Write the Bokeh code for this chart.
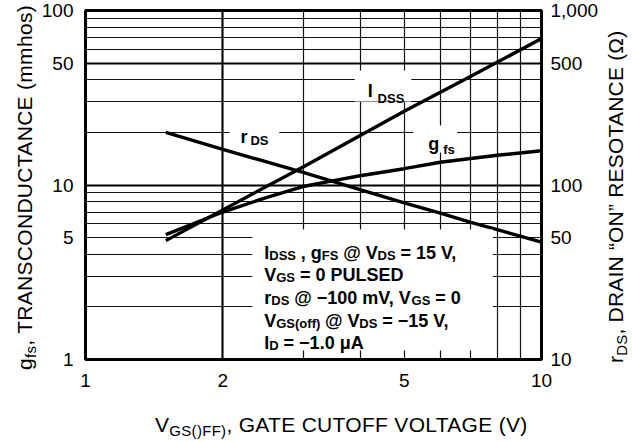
import math
from bokeh.plotting import figure
from bokeh.layouts import row, column
from bokeh.models import (Range1d, LogScale, LogAxis, FixedTicker, NumeralTickFormatter,
                          Label, BoxAnnotation, Grid, Div)
from bokeh.embed import file_html
from bokeh.resources import INLINE

# ---------------- data ----------------
vgs_idss = [1.5, 2, 3, 5, 7, 10]
idss = [4.8, 7.2, 12.7, 26.5, 42, 69]

vgs_gfs = [1.5, 2, 2.5, 3, 3.5, 4, 5, 6, 8, 10]
gfs = [5.2, 7.0, 8.5, 9.8, 10.6, 11.3, 12.4, 13.5, 14.8, 15.7]

vgs_rds = [1.5, 2, 3, 4, 5, 6, 7, 8, 10]
rds = [200, 160, 118, 94, 79, 69, 61, 55.5, 47]

x_ticks = [1, 2, 5, 10]
left_ticks = [1, 5, 10, 50, 100]
right_ticks = [10, 50, 100, 500, 1000]
x_grid = [2, 3, 4, 5, 6, 7, 8, 9]
y_grid = [2, 3, 4, 5, 6, 7, 8, 9, 20, 30, 40, 50, 60, 70, 80, 90]

FONT = "Liberation Sans"

# ---------------- page layout ----------------
LEFT_W = 38          # left title strip
RIGHT_X = 603        # right title strip starts here
PLOT_H = 400         # figure height; bottom title strip below
PAGE_W, PAGE_H = 632, 442
FL, FR, FT, FB = 82.0, 541.0, 10.0, 359.0   # frame edges in page pixels


def X(px):
    return 10 ** ((px - FL) / (FR - FL))


def Y(py):
    return 10 ** (2 * (FB - py) / (FB - FT))


BOLD = {' ': 278, ',': 278, '(': 333, ')': 333, '@': 975, '=': 584, '\u2212': 584, '.': 278,
        '\u03bc': 611, 'A': 722, 'D': 722, 'E': 667, 'F': 611, 'G': 778, 'I': 278, 'L': 611,
        'P': 667, 'S': 667, 'U': 722, 'V': 667, 'f': 333, 'g': 611, 'm': 889, 'o': 611,
        'r': 389, 's': 556}


def tw(s, size):
    return sum(BOLD.get(c, 556) for c in s) * size / 1000.0


p = figure(width=RIGHT_X - LEFT_W, height=PLOT_H, x_axis_type="log", y_axis_type="log",
           x_range=Range1d(1, 10), y_range=Range1d(1, 100),
           output_backend="svg", toolbar_location=None,
           min_border_left=int(FL - LEFT_W), min_border_right=int(RIGHT_X - FR),
           min_border_top=int(FT), min_border_bottom=int(PLOT_H - FB))

p.extra_y_ranges = {"r": Range1d(10, 1000)}
p.extra_y_scales = {"r": LogScale()}
ax_r = LogAxis(y_range_name="r")
p.add_layout(ax_r, "right")

p.xaxis.ticker = FixedTicker(ticks=x_ticks)
p.yaxis[0].ticker = FixedTicker(ticks=left_ticks)
ax_r.ticker = FixedTicker(ticks=right_ticks)

for ax in [p.xaxis[0], p.yaxis[0], ax_r]:
    ax.formatter = NumeralTickFormatter(format="0,0")
    ax.axis_line_color = None
    ax.major_tick_line_color = None
    ax.minor_tick_line_color = None
    ax.major_tick_out = 0
    ax.major_tick_in = 0
    ax.minor_tick_out = 0
    ax.minor_tick_in = 0
    ax.major_label_text_font = FONT
    ax.major_label_text_font_size = "19px"
    ax.major_label_text_color = "black"

p.xaxis[0].major_label_standoff = 14
p.yaxis[0].major_label_standoff = 12
ax_r.major_label_standoff = 9

p.xgrid.ticker = FixedTicker(ticks=x_grid)
p.ygrid.ticker = FixedTicker(ticks=y_grid)
p.xgrid.grid_line_color = "#111111"
p.ygrid.grid_line_color = "#111111"
p.xgrid.grid_line_width = 1.2
p.ygrid.grid_line_width = 1.2
p.add_layout(Grid(dimension=0, ticker=FixedTicker(ticks=[2]), grid_line_color="black", grid_line_width=2))
p.add_layout(Grid(dimension=1, ticker=FixedTicker(ticks=[10, 50]), grid_line_color="black", grid_line_width=2))

p.outline_line_color = "black"
p.outline_line_width = 3
p.background_fill_color = "white"
p.border_fill_color = "white"

# ---------------- curves ----------------
p.line(vgs_idss, idss, line_color="black", line_width=3.4)
p.line(vgs_gfs, gfs, line_color="black", line_width=3.4)
p.line(vgs_rds, rds, y_range_name="r", line_color="black", line_width=3.4)


# ---------------- white backgrounds that break the grid ----------------
def white_box(l, r, t, b):
    p.add_layout(BoxAnnotation(left=X(l), right=X(r), top=Y(t), bottom=Y(b),
                               fill_color="white", fill_alpha=1.0, line_color=None))


white_box(250, 492, 229, 350)
white_box(227, 277, 121, 144)
white_box(353, 410, 70, 101)
white_box(412, 456, 125, 152)


def put(parts, px, py):
    pos = 0.0
    for text, size, shift in parts:
        lead = len(text) - len(text.lstrip())
        start = pos + tw(text[:lead], size)
        p.add_layout(Label(x=X(px + start), y=Y(py + shift), text=text.strip(), text_font=FONT,
                           text_font_size=f"{size}px", text_font_style="bold",
                           text_color="black", text_align="left",
                           text_baseline="alphabetic"))
        pos += tw(text, size)


# curve labels
put([("r", 18, 0)], 238, 136)
put([("DS", 13, 0)], 248, 140)
put([("I", 18, 0)], 366, 90)
put([("DSS", 13, 0)], 376, 98)
put([("g", 18, 0)], 427, 143)
put([("fs", 13, 0)], 442, 149)

# conditions box text
M, S, D = 18, 13, 3
box_lines = [
    [("I", M, 0), ("DSS", S, D), (" , g", M, 0), ("FS", S, D), (" @ V", M, 0), ("DS", S, D), (" = 15 V,", M, 0)],
    [("V", M, 0), ("GS", S, D), (" = 0 PULSED", M, 0)],
    [("r", M, 0), ("DS", S, D), (" @ \u2212100 mV, V", M, 0), ("GS", S, D), (" = 0", M, 0)],
    [("V", M, 0), ("GS(off)", S, D), (" @ V", M, 0), ("DS", S, D), (" = \u221215 V,", M, 0)],
    [("I", M, 0), ("D", S, D), (" = \u22121.0 \u03bcA", M, 0)],
]
baselines = [252, 274, 297, 320, 342]
for parts, b in zip(box_lines, baselines):
    put(parts, 262, b)

# ---------------- axis titles (HTML strips around the figure) ----------------
TITLE_STYLE = ("position:absolute; white-space:nowrap; font-family:'Liberation Sans'; "
               "font-size:21px; line-height:21px; color:black; margin:0; padding:0;")
SUB = "font-size:15px; position:relative; top:4px;"


def title_html(main, sub, rest, left, top, rotate, w, h, spacing):
    rot = "transform-origin:0 0; transform:rotate(-90deg);" if rotate else ""
    inner = (f'<div style="{TITLE_STYLE} letter-spacing:{spacing}px; left:{left}px; top:{top}px; {rot}">'
             f'{main}<span style="{SUB}">{sub}</span>{rest}</div>')
    return f'<div style="position:relative; width:{w}px; height:{h}px; overflow:visible;">{inner}</div>'


ASC = 17.8  # baseline offset inside a 21px line box
left_div = Div(text=title_html("g", "fs", ", TRANSCONDUCTANCE (mmhos)", 32 - ASC, 370, True,
                               LEFT_W, PAGE_H, 0.3),
               width=LEFT_W, height=PAGE_H, margin=0)
right_div = Div(text=title_html("r", "DS", ", DRAIN \u201cON\u201d RESOTANCE (\u03a9)",
                                623 - RIGHT_X - ASC, 363, True, PAGE_W - RIGHT_X, PAGE_H, 0.2),
                width=PAGE_W - RIGHT_X, height=PAGE_H, margin=0)
bottom_div = Div(text=title_html("V", "GS()FF)", ", GATE CUTOFF VOLTAGE (V)",
                                 155 - LEFT_W, 432 - PLOT_H - ASC, False,
                                 RIGHT_X - LEFT_W, PAGE_H - PLOT_H, 0.3),
                 width=RIGHT_X - LEFT_W, height=PAGE_H - PLOT_H, margin=0)

layout = row(left_div, column(p, bottom_div, spacing=0), right_div, spacing=0)

open("out.html", "w").write(file_html(layout, INLINE))
